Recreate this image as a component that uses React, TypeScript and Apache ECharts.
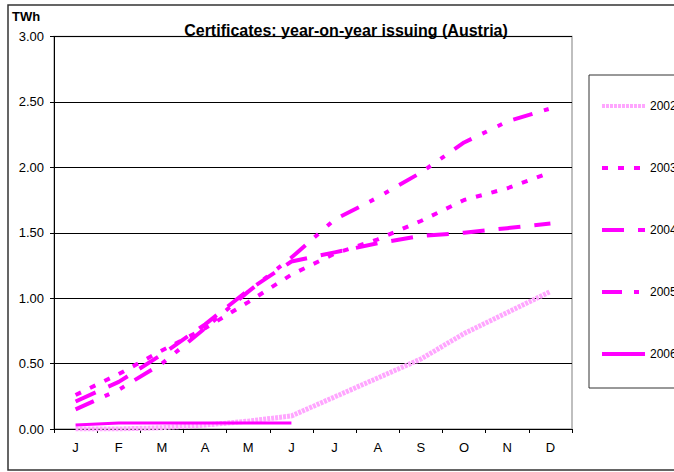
import React, { useEffect, useRef } from "react";
import * as echarts from "echarts";

const months = ["J", "F", "M", "A", "M", "J", "J", "A", "S", "O", "N", "D"];
const yTicks = [0, 0.5, 1, 1.5, 2, 2.5, 3];
const s2002 = [0.0, 0.0, 0.01, 0.03, 0.06, 0.1, 0.245, 0.39, 0.535, 0.73, 0.89, 1.05];
const s2003 = [0.26, 0.42, 0.6, 0.77, 0.97, 1.18, 1.34, 1.45, 1.59, 1.75, 1.84, 1.96];
const s2004 = [0.21, 0.36, 0.57, 0.8, 1.06, 1.28, 1.35, 1.42, 1.475, 1.5, 1.535, 1.57];
const s2005 = [0.15, 0.3, 0.5, 0.77, 1.05, 1.31, 1.6, 1.77, 1.96, 2.19, 2.35, 2.45];
const s2006 = [0.03, 0.045, 0.045, 0.045, 0.045, 0.045];
const seriesNames = ["2002", "2003", "2004", "2005", "2006"];

const FONT = "Arial, 'Liberation Sans', sans-serif";

export default function App() {
  const ref = useRef<HTMLDivElement>(null);
  useEffect(() => {
    const chart = echarts.init(ref.current!, null, { renderer: "svg" });
    const mk = (name: string, data: number[], color: string, width: number, type: any) => ({
      name,
      type: "line",
      data,
      symbol: "none",
      showSymbol: false,
      lineStyle: { color, width, type, cap: "butt" },
      itemStyle: { color },
      z: 3,
    });
    chart.setOption({
      animation: false,
      backgroundColor: "#fff",
      textStyle: { fontFamily: FONT },
      grid: {
        left: 54,
        right: 102,
        top: 36.5,
        bottom: 43,
        show: true,
        borderColor: "#aaa",
        borderWidth: 1.5,
      },
      xAxis: {
        type: "category",
        data: months,
        boundaryGap: true,
        axisLine: { lineStyle: { color: "#000", width: 1 } },
        axisTick: { show: true, length: 4, inside: false, lineStyle: { color: "#000" } },
        axisLabel: { color: "#000", fontSize: 13, margin: 12, fontFamily: FONT },
        splitLine: { show: false },
      },
      yAxis: {
        type: "value",
        min: yTicks[0],
        max: yTicks[yTicks.length - 1],
        interval: 0.5,
        axisLine: { show: true, lineStyle: { color: "#000", width: 1 } },
        axisTick: { show: true, length: 4, lineStyle: { color: "#000" } },
        axisLabel: {
          color: "#000",
          fontSize: 13,
          margin: 10,
          fontFamily: FONT,
          formatter: (v: number) => v.toFixed(2),
        },
        splitLine: { show: true, lineStyle: { color: "#000", width: 1 } },
      },
      legend: {
        orient: "vertical",
        left: 589,
        top: 75,
        padding: [25, 40, 28, 11],
        itemGap: 50,
        itemWidth: 43,
        itemHeight: 14,
        borderColor: "#333",
        borderWidth: 1,
        data: seriesNames,
        itemStyle: { opacity: 0 },
        lineStyle: { width: 4 },
        textStyle: { color: "#000", fontSize: 12, fontFamily: FONT },
      },
      graphic: [
        {
          type: "rect",
          shape: { x: 8, y: 5, width: 700, height: 465 },
          style: { fill: "none", stroke: "#333", lineWidth: 1.5 },
          silent: true,
          z: -1,
        },
        {
          type: "text",
          left: 12,
          top: 10,
          style: { text: "TWh", font: `bold 13px ${FONT}`, fill: "#000" },
        },
        {
          type: "text",
          x: 346,
          y: 30,
          style: {
            text: "Certificates: year-on-year issuing (Austria)",
            font: `bold 16px ${FONT}`,
            fill: "#000",
            align: "center",
            verticalAlign: "middle",
          },
        },
      ],
      series: [
        mk(seriesNames[0], s2002, "#FFA6FF", 5, [3, 1]),
        mk(seriesNames[1], s2003, "#FF00FF", 4, [6, 10]),
        mk(seriesNames[2], s2004, "#FF00FF", 4, [22, 14]),
        mk(seriesNames[3], s2005, "#FF00FF", 4, [20, 12, 5, 12, 5, 12]),
        mk(seriesNames[4], s2006, "#FF00FF", 3, "solid"),
      ],
    });
    return () => chart.dispose();
  }, []);
  return (
    <div
      ref={ref}
      style={{ position: "fixed", left: 0, top: 0, width: 674, height: 472, background: "#fff" }}
    />
  );
}
